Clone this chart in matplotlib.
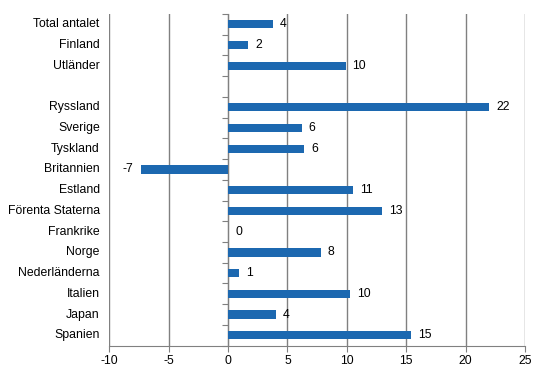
import matplotlib.pyplot as plt
import numpy as np

# categories top to bottom; '' is the empty gap row
categories = ['Total antalet', 'Finland', 'Utländer', '',
              'Ryssland', 'Sverige', 'Tyskland', 'Britannien', 'Estland',
              'Förenta Staterna', 'Frankrike', 'Norge', 'Nederländerna',
              'Italien', 'Japan', 'Spanien']
values = [3.8, 1.7, 9.9, None,
          22.0, 6.2, 6.4, -7.3, 10.5,
          13.0, 0.0, 7.8, 0.9,
          10.3, 4.0, 15.4]
value_labels = ['4', '2', '10', '',
                '22', '6', '6', '-7', '11',
                '13', '0', '8', '1',
                '10', '4', '15']

plt.rcParams['font.family'] = ['Liberation Sans', 'DejaVu Sans']
plt.rcParams['font.size'] = 8.8
plt.rcParams['axes.unicode_minus'] = False

fig = plt.figure(figsize=(5.46, 3.76), dpi=100)
ax = fig.add_axes([0.2002, 0.0806, 0.7613, 0.8822])

y = np.arange(len(categories))
bar_vals = [v if v is not None else 0 for v in values]
ax.barh(y, bar_vals, height=0.4, color='#1c68b0', zorder=3)

# value labels next to bar ends
for yi, v, lab in zip(y, values, value_labels):
    if v is None:
        continue
    if v < 0:
        ax.annotate(lab, (v, yi), xytext=(-6, 0), textcoords='offset points',
                    ha='right', va='center')
    else:
        ax.annotate(lab, (v, yi), xytext=(5, 0), textcoords='offset points',
                    ha='left', va='center')

# category labels at left edge of the plot
for yi, cat in zip(y, categories):
    ax.text(-0.023, yi, cat, transform=ax.get_yaxis_transform(),
            ha='right', va='center')

ax.set_xlim(-10, 25)
ax.set_xticks(np.arange(-10, 26, 5))
ax.set_ylim(len(categories) - 0.5, -0.5)

ax.set_yticks(np.arange(-0.5, len(categories), 1))
ax.set_yticklabels([])

ax.spines['left'].set_position(('data', 0))
ax.spines['left'].set_color('#808080')
ax.spines['bottom'].set_color('#808080')
ax.spines['top'].set_visible(False)
ax.spines['right'].set_visible(False)
ax.tick_params(axis='y', length=4, color='#808080', direction='out')
ax.tick_params(axis='x', length=4, color='#808080', pad=3)

ax.grid(axis='x', color='#808080', lw=1, zorder=0)
ax.set_axisbelow(True)

fig.savefig('out.png', dpi=100)
